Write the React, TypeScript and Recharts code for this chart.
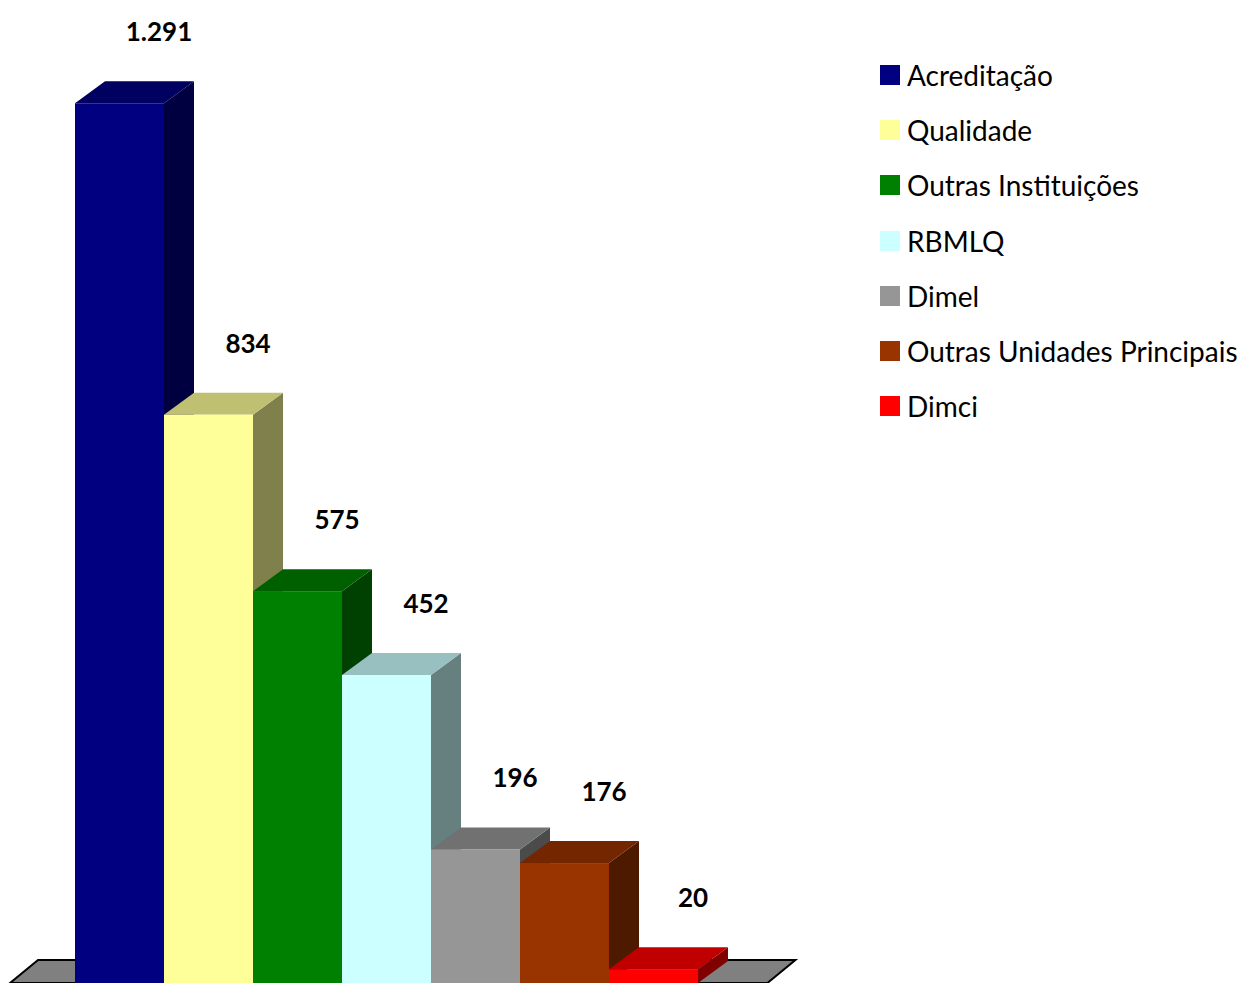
import { BarChart, Bar, XAxis, YAxis, LabelList } from 'recharts';

const categories = [
  'Acreditação',
  'Qualidade',
  'Outras Instituições',
  'RBMLQ',
  'Dimel',
  'Outras Unidades Principais',
  'Dimci',
];
const values = [1291, 834, 575, 452, 196, 176, 20];
const valueLabels = ['1.291', '834', '575', '452', '196', '176', '20'];

const frontColors = ['#000080', '#FFFF99', '#008000', '#CCFFFF', '#969696', '#993300', '#FF0000'];
const topColors = ['#000060', '#C0C073', '#006000', '#99C0C0', '#717171', '#732600', '#C00000'];
const sideColors = ['#000040', '#80804D', '#004000', '#668080', '#4B4B4B', '#4D1A00', '#800000'];

const chartData = categories.map((name, i) => ({ name, value: values[i], label: valueLabels[i] }));

const DX = 30;
const DY = 22;
const FONT = 'Lato, "Open Sans", sans-serif';

function Box3D(props: any) {
  const { x, y, width, height, index } = props;
  const bottom = y + height;
  const right = x + width;
  let floor = null;
  if (index === 0) {
    // grey floor under the whole series, drawn with the first bar so it stays behind
    const fl = x - width * 0.73;
    const fr = x + width * categories.length + width * 0.78;
    floor = (
      <polygon
        points={`${fl},${bottom} ${fl + 28},${bottom - 23} ${fr + 28},${bottom - 23} ${fr},${bottom}`}
        fill="#808080"
        stroke="#000"
        strokeWidth={2}
      />
    );
  }
  return (
    <g>
      {floor}
      <polygon
        points={`${right},${y} ${right + DX},${y - DY} ${right + DX},${bottom - DY} ${right},${bottom}`}
        fill={sideColors[index]}
      />
      <polygon
        points={`${x},${y} ${x + DX},${y - DY} ${right + DX},${y - DY} ${right},${y}`}
        fill={topColors[index]}
      />
      <rect x={x} y={y} width={width} height={height} fill={frontColors[index]} />
    </g>
  );
}

function ValueLabel(props: any) {
  const { x, y, value } = props;
  return (
    <text
      x={x + 84}
      y={y - 72}
      textAnchor="middle"
      dominantBaseline="central"
      fontFamily={FONT}
      fontWeight="bold"
      fontSize={26}
      fill="#000"
    >
      {value}
    </text>
  );
}

function LegendBox() {
  return (
    <div style={{ position: 'absolute', left: 880, top: 47, fontFamily: FONT, fontSize: 28, color: '#000' }}>
      {categories.map((name, i) => (
        <div key={name} style={{ display: 'flex', alignItems: 'center', height: 55.3 }}>
          <span style={{ width: 20, height: 20, background: frontColors[i], display: 'inline-block', marginRight: 7 }} />
          <span style={{ whiteSpace: 'nowrap' }}>{name}</span>
        </div>
      ))}
    </div>
  );
}

export default function App() {
  return (
    <div style={{ position: 'absolute', left: 0, top: 0, width: 1252, height: 983, background: '#fff' }}>
      <BarChart
        width={1252}
        height={983}
        data={chartData}
        margin={{ top: 29, right: 554, left: 75, bottom: 0 }}
        barCategoryGap={0}
      >
        <XAxis dataKey="name" hide />
        <YAxis hide domain={[0, 1400]} />
        <Bar dataKey="value" shape={<Box3D />} isAnimationActive={false}>
          <LabelList dataKey="label" content={<ValueLabel />} />
        </Bar>
      </BarChart>
      <LegendBox />
    </div>
  );
}
